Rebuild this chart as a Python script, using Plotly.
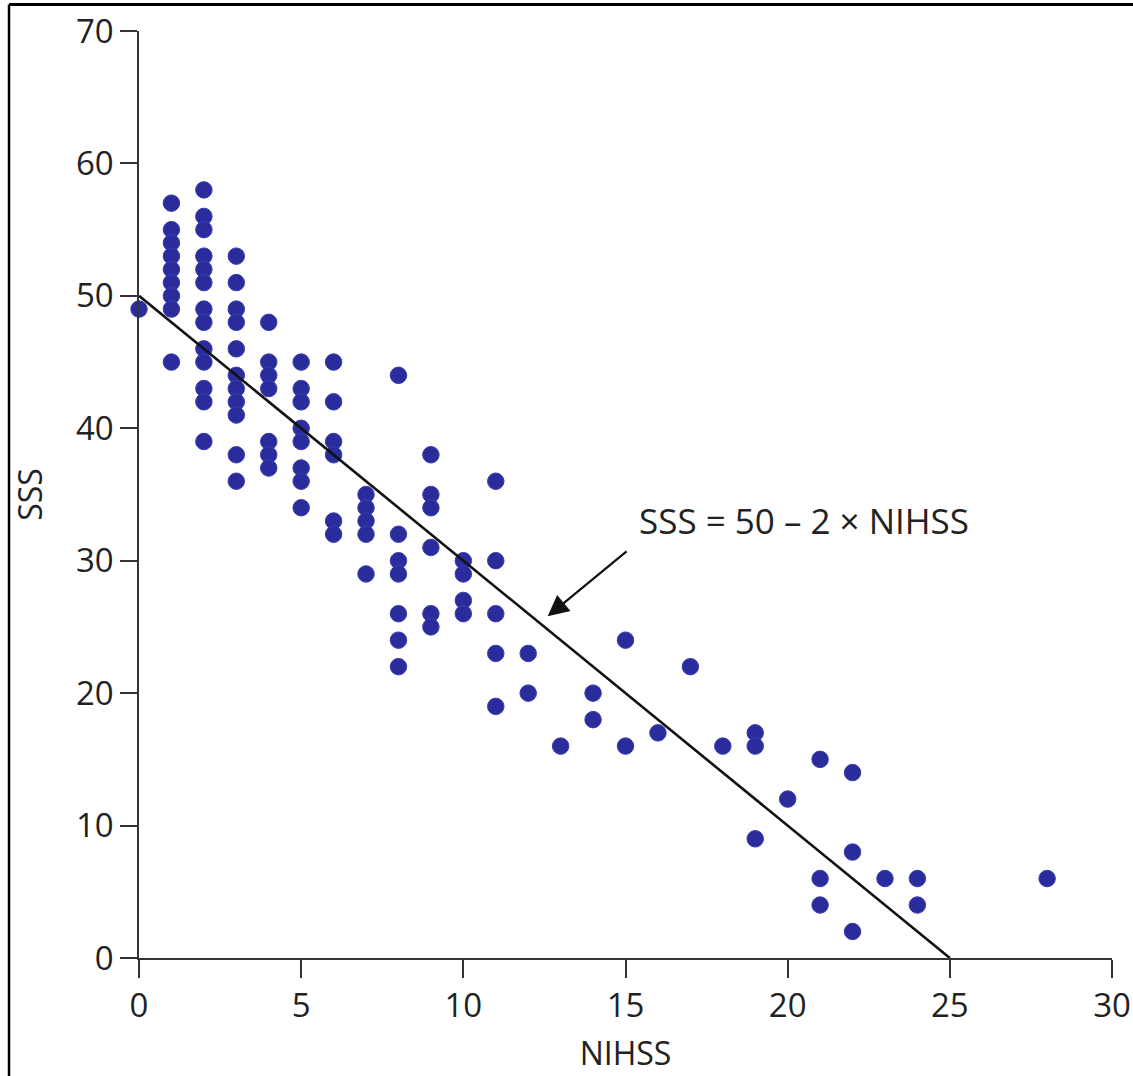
import plotly.graph_objects as go

# NIHSS value -> list of SSS values observed at that NIHSS score
nihss_levels = [0, 1, 2, 3, 4, 5, 6, 7, 8, 9, 10, 11, 12, 13, 14, 15, 16, 17, 18, 19, 20, 21, 22, 23, 24, 28]
sss_by_level = [
    [49],
    [57, 55, 54, 53, 52, 51, 50, 49, 45],
    [58, 56, 55, 53, 52, 51, 49, 48, 46, 45, 43, 42, 39],
    [53, 51, 49, 48, 46, 44, 43, 42, 41, 38, 36],
    [48, 45, 44, 43, 39, 38, 37],
    [45, 43, 42, 40, 39, 37, 36, 34],
    [45, 42, 39, 38, 33, 32],
    [35, 34, 33, 32, 29],
    [44, 32, 30, 29, 26, 24, 22],
    [38, 35, 34, 31, 26, 25],
    [30, 29, 27, 26],
    [36, 30, 26, 23, 19],
    [23, 20],
    [16],
    [20, 18],
    [24, 16],
    [17],
    [22],
    [16],
    [17, 16, 9],
    [12],
    [15, 6, 4],
    [14, 8, 2],
    [6],
    [6, 4],
    [6],
]

# regression line SSS = 50 - 2 x NIHSS
line_x = [0, 25]
line_y = [50, 0]

x_ticks = [0, 5, 10, 15, 20, 25, 30]
y_ticks = [0, 10, 20, 30, 40, 50, 60, 70]

xs, ys = [], []
for lvl, vals in zip(nihss_levels, sss_by_level):
    for v in vals:
        xs.append(lvl)
        ys.append(v)

FONT = "Open Sans"
DOT = "#2B2C9B"
AX = "#333333"

fig = go.Figure()
fig.add_trace(go.Scatter(
    x=xs, y=ys, mode="markers",
    marker=dict(size=16.5, color=DOT, line=dict(width=1, color="#3a3cb0")),
    showlegend=False, cliponaxis=False,
))
fig.add_trace(go.Scatter(
    x=line_x, y=line_y, mode="lines",
    line=dict(color="#111111", width=2.6),
    showlegend=False,
))

# arrow (no text) and separate equation text
fig.add_annotation(
    x=12.6, y=25.8, ax=15.08, ay=30.8, axref="x", ayref="y",
    xref="x", yref="y", text="", showarrow=True,
    arrowhead=2, arrowsize=1.9, arrowwidth=2.2, arrowcolor="#111111",
)
fig.add_annotation(
    x=20.5, y=33.0, xref="x", yref="y",
    text="SSS = 50 \u2013 2 \u00d7 NIHSS", showarrow=False,
    xanchor="center", yanchor="middle",
    font=dict(family=FONT, size=35, color="#222222"),
)

# frame lines at the top and left of the picture
fig.add_shape(type="line", xref="paper", yref="paper",
              x0=-0.1336, x1=1.03, y0=1.0285, y1=1.0285,
              line=dict(color="black", width=3))
fig.add_shape(type="line", xref="paper", yref="paper",
              x0=-0.1336, x1=-0.1336, y0=1.0285, y1=-0.14,
              line=dict(color="black", width=2.5))

fig.update_layout(
    width=1133, height=1076,
    margin=dict(l=139, r=21, t=31, b=118, autoexpand=False),
    paper_bgcolor="white", plot_bgcolor="white",
    font=dict(family=FONT, size=32, color="#222222"),
    xaxis=dict(
        range=[0, 30], tickvals=x_ticks, ticks="outside", ticklen=18,
        tickwidth=1.5, tickcolor=AX, showline=True, linecolor=AX, linewidth=1.5,
        showgrid=False, zeroline=False,
        title=dict(text="NIHSS", standoff=16, font=dict(size=32)),
        tickfont=dict(size=33),
    ),
    yaxis=dict(
        range=[0, 70], tickvals=y_ticks, ticks="outside", ticklen=17,
        tickwidth=1.5, tickcolor=AX, showline=True, linecolor=AX, linewidth=1.5,
        showgrid=False, zeroline=False,
        title=dict(text="SSS", standoff=24, font=dict(size=32)),
        tickfont=dict(size=33),
    ),
)

fig.write_html("out.html", config={"displayModeBar": False})

# remove the default page margin so the figure sits at the window's corner
with open("out.html", "r", encoding="utf-8") as f:
    html = f.read()
html = html.replace("<body>", '<body style="margin:0;padding:0;overflow:hidden">', 1)
with open("out.html", "w", encoding="utf-8") as f:
    f.write(html)
